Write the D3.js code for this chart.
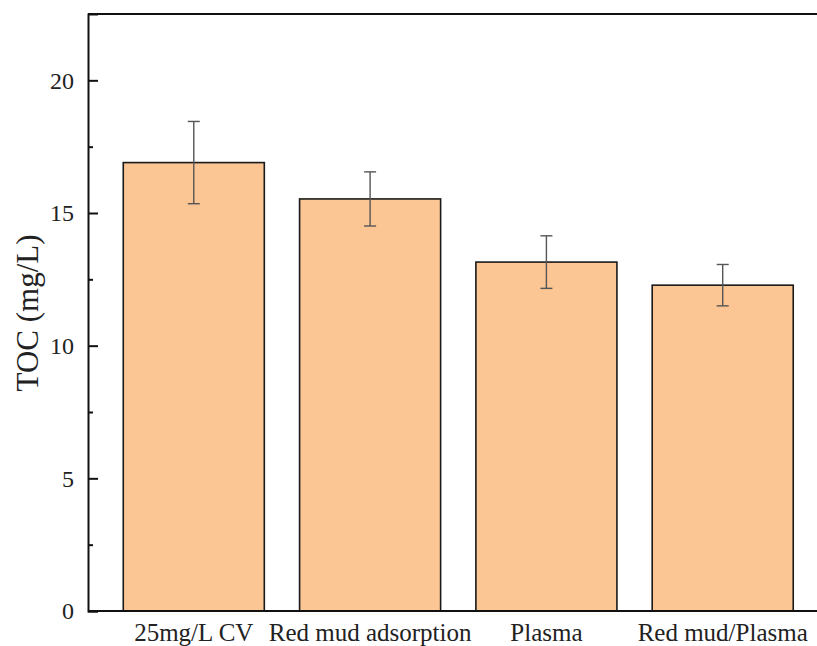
<!DOCTYPE html>
<html><head><meta charset="utf-8">
<script src="https://cdn.jsdelivr.net/npm/d3@7"></script>
<style>body{margin:0;background:#fff;} svg{display:block;} text{font-family:"Liberation Serif","Times New Roman",serif;}</style>
</head><body>
<script>
const categories = ["25mg/L CV", "Red mud adsorption", "Plasma", "Red mud/Plasma"];
const values = [16.9, 15.53, 13.15, 12.28];
const errors = [1.55, 1.02, 0.99, 0.78];
const yTicks = [0, 5, 10, 15, 20];
const yMinorTicks = [2.5, 7.5, 12.5, 17.5];

const W = 817, H = 646;
const mLeft = 88, mTop = 14, mBottom = 611;
const svg = d3.select("body").append("svg").attr("width", W).attr("height", H);

const x = d3.scaleBand().domain(categories).range([mLeft, 828.5]).paddingInner(0.2).paddingOuter(0.2);
const y = d3.scaleLinear().domain([0, 22.5]).range([mBottom, mTop]);

// bars
svg.selectAll("rect.bar").data(values).enter().append("rect")
  .attr("x", (d, i) => x(categories[i]))
  .attr("y", d => y(d))
  .attr("width", x.bandwidth())
  .attr("height", d => y(0) - y(d))
  .attr("fill", "#FBC594")
  .attr("stroke", "#1a1a1a").attr("stroke-width", 1.6);

// error bars
const eg = svg.append("g").attr("stroke", "#555").attr("stroke-width", 1.4);
values.forEach((v, i) => {
  const cx = x(categories[i]) + x.bandwidth() / 2;
  eg.append("line").attr("x1", cx).attr("x2", cx).attr("y1", y(v + errors[i])).attr("y2", y(v - errors[i]));
  eg.append("line").attr("x1", cx - 6).attr("x2", cx + 6).attr("y1", y(v + errors[i])).attr("y2", y(v + errors[i]));
  eg.append("line").attr("x1", cx - 6).attr("x2", cx + 6).attr("y1", y(v - errors[i])).attr("y2", y(v - errors[i]));
});

// axes frame
svg.append("line").attr("x1", mLeft).attr("x2", W).attr("y1", mTop).attr("y2", mTop).attr("stroke", "#111").attr("stroke-width", 2);
svg.append("line").attr("x1", mLeft).attr("x2", W).attr("y1", mBottom).attr("y2", mBottom).attr("stroke", "#111").attr("stroke-width", 2);

// y axis
const yAxis = d3.axisRight(y).tickValues(yTicks).tickSize(10).tickFormat("");
const ga = svg.append("g").attr("transform", `translate(${mLeft},0)`).call(yAxis);
ga.select(".domain").attr("stroke", "#111").attr("stroke-width", 2);
ga.selectAll(".tick line").attr("stroke", "#111").attr("stroke-width", 2);
const gm = svg.append("g").attr("transform", `translate(${mLeft},0)`).call(d3.axisRight(y).tickValues(yMinorTicks).tickSize(5).tickFormat(""));
gm.select(".domain").remove();
gm.selectAll(".tick line").attr("stroke", "#111").attr("stroke-width", 2);

svg.selectAll("text.ytl").data(yTicks).enter().append("text")
  .attr("x", 74).attr("y", d => y(d)).attr("dy", "0.35em")
  .attr("text-anchor", "end")
  .attr("font-size", 24).attr("fill", "#222")
  .text(d => d);

// x labels
svg.selectAll("text.xl").data(categories).enter().append("text")
  .attr("x", d => x(d) + x.bandwidth() / 2).attr("y", 641)
  .attr("text-anchor", "middle")
  .attr("font-size", 25).attr("fill", "#222")
  .text(d => d);

// y title
svg.append("text").attr("transform", `translate(38,313) rotate(-90)`)
  .attr("text-anchor", "middle")
  .attr("font-size", 31).attr("fill", "#222")
  .text("TOC (mg/L)");
</script>
</body></html>
